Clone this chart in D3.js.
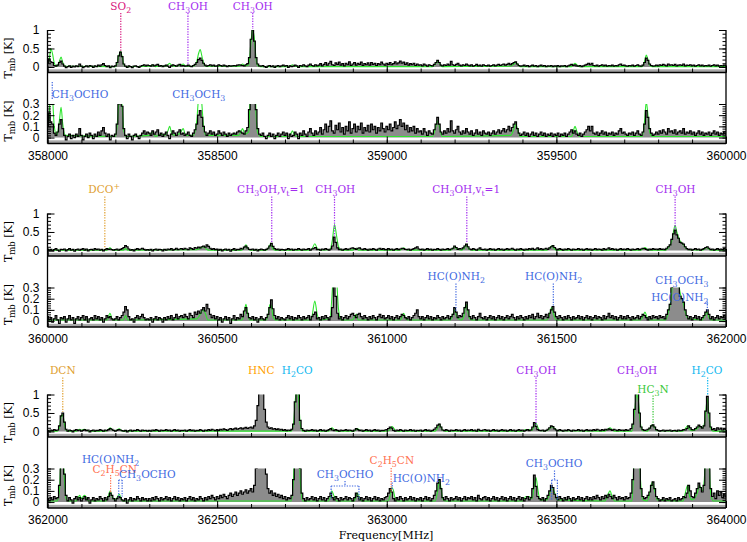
<!DOCTYPE html>
<html>
<head>
<meta charset="utf-8">
<script src="https://cdn.jsdelivr.net/npm/d3@7"></script>
<style>
  body { margin: 0; background: #fff; }
  svg { display: block; }
  .tick text { font-family: "Liberation Sans", Arial, sans-serif; font-size: 12px; fill: #000; }
  .tick line { stroke: #000; stroke-width: 1; }
  .note { font-family: "DejaVu Serif", serif; font-size: 10.5px; }
  .title { font-family: "DejaVu Serif", serif; font-size: 11px; fill: #000; }
</style>
</head>
<body>
<div class="spectra"></div>
<script>
// three 2 GHz windows, observed spectrum sampled every 5 MHz (Tmb in K)
var blockStart = [358000, 360000, 362000];
var step = 5;

var obsA = [
  .10,.22,.14,.12,.04,.02,.05,.12,.16,.08,.02,-.02,.01,.03,-.01,.02,0,.03,.01,.08,
  .02,-.02,.01,.03,0,.04,.02,-.01,.03,.01,.05,.02,.06,.09,.04,.01,.03,-.02,.02,.01,
  .03,.12,.30,.40,.28,.08,.02,-.01,.03,.01,-.02,.02,.03,.01,-.01,.02,.04,.06,.03,.05,
  .04,.02,.06,.03,.05,.07,.02,.04,.01,.03,.05,.02,-.01,.03,.06,.04,.02,.05,.07,.03,
  .04,.02,.03,.05,.02,.01,.04,.07,.12,.20,.24,.18,.10,.05,.02,.04,.06,.03,.05,.02,
  .03,.06,.04,.02,.05,.03,.01,.04,.02,.03,.04,.03,.05,.06,.05,.04,.03,.06,.09,.25,
  .75,1.0,.70,.25,.08,.03,.02,.04,.01,-.01,.02,.04,.01,.03,-.01,.02,.04,.01,.03,.05,
  .02,.04,-.01,.03,.01,.02,.05,.03,-.01,.04,.02,.06,.03,.01,.05,.08,.04,.02,.06,.03,
  .05,.09,.03,.07,.12,.05,.10,.15,.06,.04,.11,.07,.13,.05,.09,.03,.10,.06,.14,.04,
  .08,.12,.05,.10,.07,.13,.04,.09,.06,.11,.05,.12,.07,.10,.04,.09,.06,.13,.08,.05,
  .10,.07,.12,.06,.09,.14,.08,.11,.16,.10,.13,.07,.11,.05,.09,.06,.10,.04,.08,.05,
  .06,.03,.08,.05,.02,.06,.04,.03,.07,.12,.18,.12,.05,.03,.06,.04,.08,.05,.15,.06,
  .04,.07,.10,.05,.03,.06,.04,.08,.05,.03,.06,.02,.04,.07,.03,.05,.02,.06,.04,.03,
  .05,.02,.04,.06,.03,.05,.07,.04,.06,.08,.05,.07,.10,.06,.09,.12,.14,.08,.04,.02,
  .03,.05,.02,.04,.01,.03,.05,.02,.04,.01,.03,.05,.02,.04,.01,.03,.02,.04,.01,.03,
  .02,.04,.01,.03,.02,.04,.01,.03,.05,.07,.04,.06,.03,.02,.04,.01,.03,.05,.07,.10,
  .06,.10,.04,.03,.05,.02,.04,.06,.03,.05,.02,.04,.03,.05,.02,.04,.03,.06,.08,.04,
  .05,.03,.02,.04,.03,.05,.02,.04,.06,.03,.02,.05,.12,.24,.18,.08,.04,.02,.03,.05,
  .03,.06,.04,.07,.05,.03,.08,.05,.06,.04,.07,.03,.05,.06,.04,.08,.03,.05,.04,.06,
  .03,.05,.02,.04,.06,.03,.05,.02,.04,.03,.05,.02,.04,.06,.03,.05,.02,.04,.03,.05,
  .03
];

var obsB = [
  .04,.01,.03,-.01,.02,.05,.01,-.02,.03,.02,.04,-.01,.02,.05,.01,.03,-.02,.02,.04,.01,
  .03,.05,.01,.04,-.01,.02,.03,.01,.05,.02,.04,.01,.03,-.01,.02,.05,.03,.04,.02,.01,
  .02,.04,.01,.03,.05,.08,.13,.10,.04,.01,.02,-.01,.03,.05,.02,.04,.06,.03,.01,.02,
  .01,.03,-.01,.02,.04,.01,.03,.02,-.01,.03,.01,.04,.02,.05,.01,.03,.06,.02,.04,.05,
  .03,.06,.04,.02,.07,.05,.03,.08,.06,.09,.07,.10,.12,.09,.15,.11,.06,.03,.05,.02,
  .04,.01,.03,-.01,.02,.04,.01,.03,-.02,.02,.05,.01,.03,.02,.06,.04,.09,.12,.07,.03,
  .02,.04,.01,.03,-.01,.02,.04,.02,.01,.03,.06,.12,.19,.11,.05,.02,.04,.01,.03,.02,
  .01,.03,.05,.02,.04,.01,.03,.02,.05,.03,.01,.04,.02,.03,.05,.01,.04,.06,.08,.02,
  .03,.01,.04,.02,.05,.03,.01,.04,.12,.36,.22,.07,.02,.04,.01,.03,.05,.02,.04,.06,
  .07,.05,.03,.06,.07,.04,.02,.05,.03,.01,.04,.02,.05,.03,.01,.04,.06,.03,.05,.02,
  .03,.05,.02,.04,.01,.03,.05,.02,.04,.06,.05,.03,.02,.04,.01,.03,.05,.07,.10,.04,
  .02,.04,.01,.03,.05,.02,.04,.01,.03,.02,.05,.03,.01,.04,.02,.03,.05,.02,.04,.06,
  .12,.08,.03,.05,.04,.07,.12,.17,.10,.04,.02,.05,.03,.01,.04,.07,.03,.02,.04,.01,
  .03,.05,.02,.04,.01,.03,.05,.02,.04,.01,.03,.05,.02,.04,.06,.03,.01,.04,.02,.05,
  .03,.01,.04,.02,.05,.03,.06,.02,.04,.07,.03,.05,.02,.04,.06,.03,.07,.10,.13,.08,
  .04,.02,.05,.03,.01,.04,.02,.05,.03,.01,.04,.02,.03,.05,.02,.04,.01,.03,.05,.02,
  .04,.01,.03,.05,.02,.04,.03,.01,.05,.02,.04,.07,.03,.05,.02,.04,.01,.03,.05,.02,
  .04,.02,.05,.03,.01,.04,.02,.03,.05,.02,.04,.06,.05,.03,.01,.04,.02,.05,.03,.04,
  .02,.05,.03,.04,.02,.06,.10,.15,.30,.45,.55,.42,.33,.22,.20,.17,.10,.05,.02,.04,
  .01,.03,.05,.02,.04,.01,.03,.05,.08,.10,.06,.02,.04,.01,.03,.05,.02,.04,.03,.05,
  .02
];

var obsC = [
  .03,.01,.04,.02,.05,.03,.04,.15,.42,.50,.25,.06,.01,.04,.02,-.01,.03,.05,.02,.04,
  .01,.03,.05,.02,.04,-.01,.02,.04,.01,.03,.02,.05,.03,.01,.04,.02,.05,.08,.06,.03,
  .01,.03,.05,.04,.02,.01,.03,-.01,.02,.04,.01,.03,.02,.05,.03,.01,.04,.02,.03,.01,
  .03,.01,.04,.02,.05,.03,.01,.04,.02,.03,.05,.02,.04,.01,.03,.05,.02,.04,.01,.03,
  .02,.04,.01,.03,.05,.02,.04,.01,.03,.02,.05,.03,.01,.04,.02,.05,.03,.06,.04,.02,
  .05,.03,.06,.04,.07,.05,.03,.06,.08,.05,.07,.09,.06,.08,.10,.07,.09,.11,.08,.10,
  .12,.09,.15,.30,.70,1.3,1.8,1.2,.60,.25,.12,.08,.10,.06,.08,.05,.07,.04,.06,.03,
  .05,.02,.04,.03,.06,.20,.80,1.5,1.1,.30,.08,.03,.01,.04,.02,.03,.05,.02,.04,.01,
  .03,.05,.02,.04,.01,.03,.05,.08,.04,.02,.05,.03,.01,.04,.02,.03,.05,.02,.04,.03,
  .01,.04,.08,.05,.02,.04,.01,.03,.05,.02,.04,.01,.03,.05,.02,.04,.01,.03,.02,.04,
  .05,.08,.12,.09,.03,.01,.04,.02,.05,.03,.01,.04,.02,.03,.05,.02,.04,.01,.03,.02,
  .04,.01,.03,.05,.02,.04,.01,.03,.06,.10,.17,.20,.12,.04,.02,.05,.03,.01,.04,.02,
  .03,.05,.02,.04,.01,.03,.05,.02,.04,.03,.05,.02,.04,.01,.06,.03,.02,.04,.05,.02,
  .04,.01,.03,.05,.02,.04,.01,.03,.05,.02,.04,.01,.03,.05,.02,.04,.01,.03,.05,.02,
  .04,.01,.03,.05,.02,.04,.12,.24,.14,.05,.03,.02,.04,.01,.03,.06,.10,.15,.13,.07,
  .04,.02,.05,.03,.01,.04,.02,.05,.03,.01,.04,.02,.03,.05,.02,.04,.01,.03,.05,.02,
  .04,.02,.05,.03,.06,.04,.02,.05,.03,.06,.04,.07,.05,.03,.06,.04,.02,.05,.03,.04,
  .02,.05,.03,.04,.08,.20,.60,1.15,1.2,.50,.12,.05,.03,.04,.06,.09,.15,.18,.12,.05,
  .03,.01,.02,.04,.01,.03,.02,.04,.01,.02,.03,.01,.04,.02,.03,.05,.04,.08,.15,.10,
  .05,.04,.08,.12,.17,.13,.09,.15,.55,.95,.50,.12,.05,.08,.03,.10,.06,.09,.04,.07,
  .05
];

// model spectrum, [frequency MHz, Tmb K]
var modA = [[358000,.1],[358005,.2],[358010,.5],[358015,.35],[358020,.1],[358027,.02],[358035,.15],[358040,.27],[358045,.12],[358052,.02],
  [358200,.01],[358205,.1],[358210,.3],[358215,.42],[358220,.28],[358225,.06],[358232,.01],[358300,.02],[358310,.05],[358318,.01],
  [358335,.03],[358345,.02],[358355,.06],[358360,.1],[358367,.03],[358380,.02],[358393,.05],[358400,.08],[358407,.02],[358430,.02],
  [358440,.15],[358445,.35],[358450,.47],[358455,.3],[358460,.1],[358467,.02],[358563,.02],[358570,.05],[358575,.08],[358582,.03],
  [358593,.05],[358600,.7],[358605,1.0],[358610,.75],[358615,.2],[358620,.04],[358628,.01],[358710,.01],[358718,.04],[358722,.06],
  [358728,.02],[358740,.01],[359135,.01],[359145,.1],[359150,.15],[359155,.1],[359163,.01],[359365,.02],[359375,.08],[359380,.12],
  [359385,.08],[359393,.01],[359545,.01],[359550,.06],[359555,.1],[359560,.06],[359567,.01],[359753,.01],[359760,.15],[359765,.32],
  [359770,.2],[359775,.05],[359782,.01],[360000,.01]];

var modB = [[360000,.01],[360176,.01],[360184,.07],[360192,.01],[360224,.01],[360230,.05],[360236,.01],[360440,.02],[360450,.06],[360458,.1],
  [360465,.07],[360473,.01],[360573,.01],[360580,.08],[360585,.15],[360590,.06],[360597,.01],[360644,.01],[360650,.05],[360656,.15],
  [360660,.13],[360665,.04],[360672,.01],[360773,.01],[360780,.05],[360788,.18],[360795,.06],[360802,.01],[360832,.02],[360840,.3],
  [360846,.7],[360852,.4],[360858,.1],[360866,.01],[360900,.01],[360905,.04],[360910,.06],[360916,.01],[361040,.01],[361045,.04],
  [361050,.07],[361055,.03],[361062,.01],[361188,.01],[361195,.06],[361201,.1],[361206,.04],[361220,.01],[361228,.05],[361233,.15],
  [361238,.1],[361243,.03],[361250,.01],[361472,.01],[361480,.06],[361486,.12],[361492,.06],[361499,.01],[361748,.01],[361755,.04],
  [361761,.08],[361768,.03],[361775,.01],[361822,.01],[361830,.08],[361840,.25],[361845,.5],[361850,.68],[361855,.5],[361860,.35],
  [361865,.25],[361870,.2],[361875,.15],[361880,.08],[361890,.02],[361930,.01],[361938,.05],[361944,.08],[361950,.03],[361957,.01],
  [362000,.01]];

var modC = [[362000,.01],[362028,.01],[362035,.1],[362040,.4],[362045,.45],[362050,.2],[362055,.03],[362062,.01],[362085,.01],[362090,.04],
  [362095,.06],[362100,.03],[362105,.05],[362110,.06],[362115,.03],[362122,.01],[362172,.01],[362180,.06],[362185,.1],[362190,.05],
  [362200,.02],[362212,.07],[362218,.02],[362225,.01],[362718,.01],[362725,.2],[362730,.8],[362735,1.2],[362740,.9],[362745,.2],
  [362752,.01],[362828,.01],[362835,.06],[362838,.1],[362845,.05],[362852,.01],[362903,.01],[362910,.05],[362913,.08],[362920,.04],
  [362927,.01],[363003,.01],[363010,.06],[363015,.13],[363020,.1],[363025,.03],[363032,.01],[363143,.01],[363150,.1],[363155,.2],
  [363160,.12],[363165,.03],[363172,.01],[363400,.01],[363410,.05],[363420,.05],[363428,.03],[363435,.15],[363440,.22],[363445,.12],
  [363452,.02],[363472,.02],[363480,.08],[363488,.13],[363495,.08],[363503,.02],[363643,.01],[363650,.05],[363658,.1],[363665,.04],
  [363672,.01],[363723,.01],[363730,.5],[363737,1.0],[363742,.8],[363748,.2],[363755,.02],[363768,.01],[363775,.08],[363783,.18],
  [363790,.1],[363797,.02],[363873,.01],[363880,.08],[363887,.15],[363893,.05],[363900,.02],[363915,.08],[363922,.15],[363930,.1],
  [363936,.2],[363940,.5],[363945,.9],[363950,.4],[363955,.08],[363962,.01],[364000,.01]];

// line identifications: label text, rest frequencies marked, label centre frequency
var notesA = [
  {n: "SO_2", mol: "so2", lf: 358216, f: [358216], row: "top"},
  {n: "CH_3OH", mol: "meoh", lf: 358414, f: [358414], row: "top"},
  {n: "CH_3OH", mol: "meoh", lf: 358605, f: [358605], row: "top"},
  {n: "CH_3OCHO", mol: "blue", lf: 358096, f: [358014], row: "low", ly: 68, y0: 52, y1: 69},
  {n: "CH_3OCH_3", mol: "blue", lf: 358446, f: [], row: "low", ly: 68}
];
var notesB = [
  {n: "DCO^+", mol: "gold", lf: 360167, f: [360169], row: "top"},
  {n: "CH_3OH,v_t=1", mol: "meoh", lf: 360659, f: [360661], row: "top"},
  {n: "CH_3OH", mol: "meoh", lf: 360848, f: [360846], row: "top"},
  {n: "CH_3OH,v_t=1", mol: "meoh", lf: 361234, f: [361236], row: "top"},
  {n: "CH_3OH", mol: "meoh", lf: 361851, f: [361850], row: "top"},
  {n: "HC(O)NH_2", mol: "blue", lf: 361205, f: [361204], row: "low", ly: 66.5, y0: 70},
  {n: "HC(O)NH_2", mol: "blue", lf: 361492, f: [361491], row: "low", ly: 66.5, y0: 70},
  {n: "CH_3OCH_3", mol: "blue", lf: 361870, f: [], row: "low", ly: 70.5},
  {n: "HC(O)NH_2", mol: "blue", lf: 361864, f: [361945], row: "low", ly: 87.5, y0: 88, y1: 97}
];
var notesC = [
  {n: "DCN", mol: "gold", lf: 362045, f: [362045], row: "top"},
  {n: "HNC", mol: "hnc", lf: 362630, f: [], row: "top"},
  {n: "H_2CO", mol: "h2co", lf: 362736, f: [], row: "top"},
  {n: "CH_3OH", mol: "meoh", lf: 363441, f: [363440], row: "top"},
  {n: "CH_3OH", mol: "meoh", lf: 363738, f: [], row: "top"},
  {n: "HC_3N", mol: "hc3n", lf: 363785, f: [363785], row: "top", ly: -1.5, y0: 1},
  {n: "H_2CO", mol: "h2co", lf: 363944, f: [363946], row: "top"},
  {n: "HC(O)NH_2", mol: "blue", lf: 362186, f: [], row: "low", ly: 68.5},
  {n: "C_2H_5CN", mol: "etcn", lf: 362198, f: [362186], row: "low", ly: 78, y0: 80.5, y1: 98.5},
  {n: "CH_3OCHO", mol: "blue", lf: 362294, f: [362210, 362220], row: "low", ly: 83, y0: 85.5, y1: 102},
  {n: "CH_3OCHO", mol: "blue", lf: 362877, f: [362836, 362918], row: "low", ly: 83, y0: 91.5, y1: 105, tick: 86.5},
  {n: "C_2H_5CN", mol: "etcn", lf: 363015, f: [363013], row: "low", ly: 69.5, y0: 73.5, y1: 97.5},
  {n: "HC(O)NH_2", mol: "blue", lf: 363102, f: [363016], row: "low", ly: 87, y0: 88, y1: 95},
  {n: "CH_3OCHO", mol: "blue", lf: 363493, f: [363486, 363503], row: "low", ly: 72, y0: 85.5, y1: 105.5, tick: 76}
];

var molColors = {
  so2: "#d8177e", meoh: "#a32cef", blue: "#4169e1", gold: "#e0a030",
  hnc: "#ffa000", h2co: "#10b8f0", hc3n: "#38c838", etcn: "#ff7050"
};

var W = 747, H = 542;
var plotLeft = 47.5, plotRight = 726;
var blockTop = [30, 213.5, 394.5];

var svg = d3.select(".spectra").append("svg")
  .attr("width", W)
  .attr("height", H);

var fmt = d3.format("~g");

// writes a label like "CH_3OH" with sub/superscripts
function richText(sel, str, size) {
  var parts = [];
  for (var k = 0; k < str.length; k++) {
    var ch = str[k];
    if ((ch === "_" || ch === "^") && k + 1 < str.length) {
      parts.push({t: str[k + 1], kind: ch});
      k++;
    } else {
      if (parts.length && parts[parts.length - 1].kind === "n") parts[parts.length - 1].t += ch;
      else parts.push({t: ch, kind: "n"});
    }
  }
  var shift = 0;
  parts.forEach(function(p) {
    var want = p.kind === "_" ? size * 0.3 : (p.kind === "^" ? -size * 0.4 : 0);
    sel.append("tspan")
      .attr("dy", want - shift)
      .style("font-size", p.kind === "n" ? null : (size * 0.75) + "px")
      .text(p.t);
    shift = want;
  });
}

var obsList = [obsA, obsB, obsC];
var modList = [modA, modB, modC];
var noteList = [notesA, notesB, notesC];

blockStart.forEach(function(f0, i) {
  var T = blockTop[i];
  var pts = obsList[i].map(function(v, k) { return {f: f0 + k * step, v: v}; });
  var mod = modList[i].map(function(d) { return {f: d[0], v: d[1]}; });

  var x = d3.scaleLinear().domain([f0, f0 + 2000]).range([plotLeft, plotRight]);
  var yTop = d3.scaleLinear().domain([-0.15, 1]).range([T + 42.5, T]);
  var yLow = d3.scaleLinear().domain([-0.053, 0.3]).range([T + 113.5, T + 74]);

  var panels = [
    {y: yTop, top: T, bot: T + 42.5, major: [0, 0.5, 1], minor: d3.range(0, 1.001, 0.1), title: T + 28},
    {y: yLow, top: T + 74, bot: T + 113.5, major: [0, 0.1, 0.2, 0.3], minor: d3.range(0, 0.301, 0.02), title: T + 91}
  ];

  panels.forEach(function(p, j) {
    var id = "clip-" + i + "-" + j;
    svg.append("clipPath").attr("id", id)
      .append("rect")
      .attr("x", plotLeft).attr("y", p.top)
      .attr("width", plotRight - plotLeft).attr("height", p.bot - p.top);

    var g = svg.append("g").attr("clip-path", "url(#" + id + ")");

    // grey strip along the lower edge
    g.append("rect")
      .attr("x", plotLeft).attr("y", p.bot - 3.2)
      .attr("width", plotRight - plotLeft).attr("height", 3.2)
      .attr("fill", "#a8a8a8");

    var area = d3.area().curve(d3.curveStep)
      .x(function(d) { return x(d.f); })
      .y0(p.y(0))
      .y1(function(d) { return p.y(Math.max(d.v, 0)); });
    g.append("path").attr("d", area(pts)).attr("fill", "#8c8c8c");

    var modLine = d3.line().curve(d3.curveMonotoneX)
      .x(function(d) { return x(d.f); })
      .y(function(d) { return p.y(d.v); });
    g.append("path").attr("d", modLine(mod))
      .attr("fill", "none").attr("stroke", "#2ee62e").attr("stroke-width", 1.1);

    var obsLine = d3.line().curve(d3.curveStep)
      .x(function(d) { return x(d.f); })
      .y(function(d) { return p.y(d.v); });
    g.append("path").attr("d", obsLine(pts))
      .attr("fill", "none").attr("stroke", "#000").attr("stroke-width", 1.2);

    // y axes, ticks pointing inwards
    var yl = svg.append("g").attr("transform", "translate(" + plotLeft + ",0)")
      .call(d3.axisLeft(p.y).tickValues(p.major).tickSize(-7).tickPadding(8).tickFormat(fmt));
    yl.select(".domain").remove();
    var ylm = svg.append("g").attr("transform", "translate(" + plotLeft + ",0)")
      .call(d3.axisLeft(p.y).tickValues(p.minor).tickSize(-3.5).tickFormat(""));
    ylm.select(".domain").remove();
    var yr = svg.append("g").attr("transform", "translate(" + plotRight + ",0)")
      .call(d3.axisRight(p.y).tickValues(p.major).tickSize(-7).tickFormat(""));
    yr.select(".domain").remove();
    var yrm = svg.append("g").attr("transform", "translate(" + plotRight + ",0)")
      .call(d3.axisRight(p.y).tickValues(p.minor).tickSize(-3.5).tickFormat(""));
    yrm.select(".domain").remove();

    // x ticks on the lower edge of each panel
    var xa = svg.append("g").attr("transform", "translate(0," + p.bot + ")")
      .call(d3.axisBottom(x).tickValues(d3.range(f0, f0 + 2001, 500)).tickSize(-7).tickPadding(7.5)
        .tickFormat(j === 1 ? d3.format("d") : ""));
    xa.select(".domain").remove();
    var xm = svg.append("g").attr("transform", "translate(0," + p.bot + ")")
      .call(d3.axisBottom(x).tickValues(d3.range(f0, f0 + 2001, 100)).tickSize(-4).tickFormat(""));
    xm.select(".domain").remove();

    var tt = svg.append("text").attr("class", "title")
      .attr("text-anchor", "middle")
      .attr("transform", "translate(12," + p.title + ") rotate(-90)");
    richText(tt, "T", 11);
    tt.append("tspan").attr("dy", 3.3).style("font-size", "8.5px").text("mb");
    tt.append("tspan").attr("dy", -3.3).text(" [K]");
  });

  // frame
  svg.append("path")
    .attr("d", "M" + plotLeft + "," + T + "V" + (T + 113.5) +
      "M" + plotRight + "," + T + "V" + (T + 113.5) +
      "M" + plotLeft + "," + (T + 42.5) + "H" + plotRight +
      "M" + plotLeft + "," + (T + 113.5) + "H" + plotRight)
    .attr("fill", "none").attr("stroke", "#000").attr("stroke-width", 1.3);

  // line identifications
  function specAt(f) {
    var k = Math.round((f - f0) / step);
    return pts[Math.max(0, Math.min(pts.length - 1, k))].v;
  }
  noteList[i].forEach(function(d) {
    var col = molColors[d.mol];
    var ly = d.ly !== undefined ? d.ly : -20.5;
    var t = svg.append("text").attr("class", "note")
      .attr("x", x(d.lf)).attr("y", T + ly)
      .attr("text-anchor", "middle").attr("fill", col);
    richText(t, d.n, 10.5);

    var dots = svg.append("g").attr("stroke", col).attr("stroke-width", 1.2)
      .attr("stroke-dasharray", "1.3,1.3").attr("fill", "none");
    d.f.forEach(function(f) {
      var yy0 = T + (d.y0 !== undefined ? d.y0 : -17);
      var yy1;
      if (d.y1 !== undefined) yy1 = T + d.y1;
      else if (d.row === "top") yy1 = yTop(Math.min(specAt(f), 1)) - 1;
      else yy1 = yLow(Math.min(specAt(f), 0.3)) - 1;
      dots.append("line").attr("x1", x(f)).attr("x2", x(f)).attr("y1", yy0).attr("y2", yy1);
    });
    if (d.f.length === 2) {
      dots.append("line").attr("x1", x(d.f[0])).attr("x2", x(d.f[1]))
        .attr("y1", T + d.y0).attr("y2", T + d.y0);
      if (d.tick !== undefined) {
        var mid = (d.f[0] + d.f[1]) / 2;
        dots.append("line").attr("x1", x(mid)).attr("x2", x(mid))
          .attr("y1", T + d.tick).attr("y2", T + d.y0);
      }
    }
  });
});

svg.append("text").attr("class", "title")
  .attr("x", 386).attr("y", 539)
  .attr("text-anchor", "middle")
  .text("Frequency[MHz]");
</script>
</body>
</html>
